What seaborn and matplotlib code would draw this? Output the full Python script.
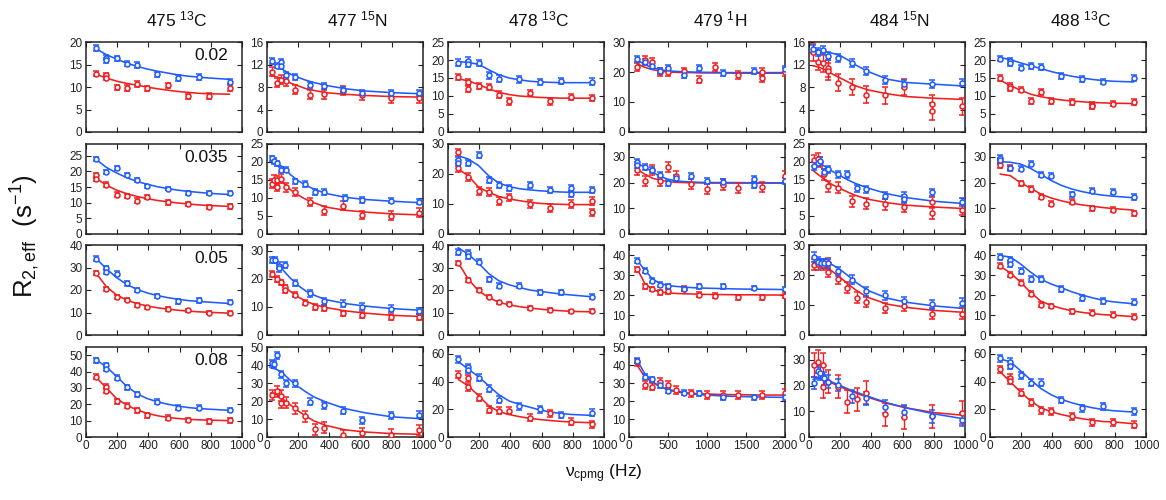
import numpy as np
import matplotlib
matplotlib.use("Agg")
import matplotlib.pyplot as plt
import seaborn as sns
from matplotlib.ticker import MultipleLocator

# ---------------- column / row labels ----------------
col_titles = ["475 $^{13}$C", "477 $^{15}$N", "478 $^{13}$C", "479 $^{1}$H", "484 $^{15}$N", "488 $^{13}$C"]
row_labels = ["0.02", "0.035", "0.05", "0.08"]

# fit-curve abscissae per column (Hz)
fit_x_c1 = [65, 130, 196, 261, 326, 392, 458, 524, 590, 656, 722, 788, 920]
fit_x_c2 = [25, 50, 75, 100, 125, 150, 200, 250, 300, 375, 500, 625, 800, 980]
fit_x_c3 = fit_x_c1
fit_x_c4 = [100, 200, 300, 400, 500, 600, 700, 800, 900, 1000, 1200, 1400, 1600, 1700, 2000]
fit_x_c5 = fit_x_c2
fit_x_c6 = fit_x_c1

# axis ranges
y_max = [[20, 16, 25, 30, 16, 25],
         [28.75, 25, 30, 35, 25, 35],
         [40, 32, 40, 45, 30, 45],
         [55, 50, 65, 50, 35, 65]]
y_step = [[5, 4, 5, 10, 4, 5],
          [5, 5, 10, 10, 5, 10],
          [10, 10, 10, 10, 10, 10],
          [10, 10, 20, 10, 10, 20]]
x_max = [1000, 1000, 1000, 2000, 1000, 1000]
x_step = [200, 200, 200, 500, 200, 200]

# error bar half-widths (blue, red)
err_b = [[0.6, 0.5, 0.9, 1.0, 0.7, 0.8],
         [0.6, 0.8, 1.0, 1.2, 1.0, 1.0],
         [1.0, 1.2, 1.2, 1.2, 1.5, 1.5],
         [1.5, 2.0, 2.5, 1.5, 2.5, 2.5]]
err_r = [[0.6, 0.8, 0.9, 1.3, 1.5, 0.8],
         [0.7, 1.2, 1.3, 2.0, 1.5, 1.0],
         [0.8, 1.0, 0.8, 1.2, 1.8, 1.2],
         [1.5, 3.0, 2.5, 2.0, 4.5, 2.5]]

# ---------------- column 1 : 475 13C ----------------
r1c1_bx = [65, 130, 130, 196, 261, 326, 458, 590, 722, 920]
r1c1_by = [18.7, 16.5, 15.9, 16.4, 15.2, 14.9, 12.8, 12.0, 12.2, 11.2]
r1c1_rx = [65, 130, 130, 196, 261, 326, 392, 524, 656, 788, 920]
r1c1_ry = [13.0, 12.6, 12.1, 9.9, 9.8, 10.7, 9.7, 10.4, 7.9, 8.0, 9.8]
r1c1_fb = [18.5, 17.2, 16.2, 15.3, 14.6, 14.0, 13.5, 13.1, 12.7, 12.4, 12.2, 12.0, 11.7]
r1c1_fr = [12.8, 12.0, 11.3, 10.8, 10.4, 10.0, 9.6, 9.3, 9.0, 8.8, 8.6, 8.5, 8.4]

r2c1_bx = [65, 130, 196, 261, 326, 392, 524, 656, 788, 920]
r2c1_by = [24.0, 19.8, 21.0, 18.9, 17.3, 15.2, 14.5, 13.0, 13.2, 13.1]
r2c1_rx = [65, 65, 130, 196, 261, 326, 392, 524, 656, 788, 920]
r2c1_ry = [18.7, 17.5, 15.8, 12.6, 12.1, 10.7, 11.8, 10.1, 9.6, 8.7, 8.8]
r2c1_fb = [23.8, 21.3, 19.5, 18.0, 16.8, 15.9, 15.1, 14.5, 14.0, 13.6, 13.3, 13.0, 12.6]
r2c1_fr = [17.8, 15.6, 14.0, 12.9, 12.0, 11.3, 10.7, 10.3, 9.9, 9.6, 9.3, 9.1, 8.8]

r3c1_bx = [65, 130, 130, 196, 261, 326, 458, 590, 722, 920]
r3c1_by = [34.0, 29.8, 28.2, 27.3, 23.0, 20.1, 17.3, 14.9, 15.4, 14.6]
r3c1_rx = [65, 130, 196, 261, 326, 392, 524, 656, 788, 920]
r3c1_ry = [27.6, 20.4, 17.0, 15.7, 13.3, 12.3, 11.5, 10.9, 10.0, 9.7]
r3c1_fb = [34.0, 29.5, 25.5, 22.5, 20.3, 18.7, 17.5, 16.6, 15.9, 15.3, 14.9, 14.6, 14.0]
r3c1_fr = [27.5, 21.5, 17.8, 15.5, 14.0, 12.9, 12.1, 11.5, 11.0, 10.6, 10.3, 10.1, 9.7]

r4c1_bx = [65, 130, 130, 196, 261, 326, 458, 590, 722, 920]
r4c1_by = [47.0, 43.8, 41.7, 36.3, 30.4, 26.0, 21.5, 18.0, 18.0, 16.5]
r4c1_rx = [65, 130, 130, 196, 261, 326, 392, 524, 656, 788, 920]
r4c1_ry = [36.7, 30.8, 28.2, 21.8, 19.2, 16.3, 13.4, 11.7, 10.4, 9.6, 10.3]
r4c1_fb = [47.0, 43.0, 37.0, 31.0, 26.5, 23.5, 21.5, 20.0, 18.9, 18.0, 17.4, 17.0, 16.3]
r4c1_fr = [36.5, 30.0, 23.5, 19.5, 16.5, 14.5, 13.0, 12.0, 11.3, 10.8, 10.5, 10.3, 10.0]

# ---------------- column 2 : 477 15N ----------------
r1c2_bx = [30, 64, 92, 92, 122, 181, 277, 367, 488, 610, 793, 975]
r1c2_by = [12.6, 11.8, 12.4, 11.7, 10.1, 9.8, 8.4, 8.2, 7.5, 7.0, 6.9, 6.9]
r1c2_rx = [30, 64, 92, 122, 181, 277, 367, 488, 610, 793, 975]
r1c2_ry = [10.7, 8.8, 9.3, 9.0, 7.5, 6.6, 6.7, 7.3, 6.5, 6.0, 6.0]
r1c2_fb = [12.2, 12.0, 11.6, 11.1, 10.7, 10.3, 9.7, 9.2, 8.8, 8.3, 7.7, 7.3, 7.0, 6.8]
r1c2_fr = [10.0, 9.9, 9.7, 9.4, 9.1, 8.7, 8.2, 7.7, 7.4, 7.0, 6.7, 6.5, 6.3, 6.2]

r2c2_bx = [32, 48, 64, 92, 122, 181, 245, 309, 367, 500, 610, 793, 975]
r2c2_by = [21.0, 20.2, 19.6, 17.9, 17.9, 14.6, 13.8, 11.6, 11.6, 9.9, 9.5, 9.3, 9.0]
r2c2_rx = [30, 48, 64, 64, 92, 122, 181, 277, 367, 488, 610, 793, 975]
r2c2_ry = [14.0, 15.1, 14.9, 13.1, 15.4, 13.0, 11.7, 8.9, 6.5, 7.9, 5.3, 5.1, 5.9]
r2c2_fb = [21.3, 20.3, 19.4, 18.6, 17.7, 16.5, 14.8, 13.5, 12.5, 11.3, 10.2, 9.6, 9.1, 8.7]
r2c2_fr = [14.9, 14.8, 14.7, 14.3, 13.3, 12.3, 10.8, 9.6, 8.7, 7.5, 6.6, 6.1, 5.6, 5.3]

r3c2_bx = [32, 53, 79, 79, 117, 181, 277, 367, 488, 610, 793, 975]
r3c2_by = [26.7, 26.7, 24.6, 23.7, 24.9, 18.5, 14.8, 12.0, 11.1, 10.1, 9.4, 8.5]
r3c2_rx = [30, 64, 92, 117, 117, 181, 245, 309, 367, 488, 610, 793, 975]
r3c2_ry = [21.8, 20.0, 18.7, 16.9, 16.1, 14.4, 11.5, 9.9, 9.5, 7.7, 7.1, 6.4, 6.4]
r3c2_fb = [26.6, 26.2, 24.8, 23.3, 21.7, 20.2, 17.6, 15.6, 14.2, 12.6, 11.2, 10.3, 9.4, 8.8]
r3c2_fr = [22.2, 20.6, 19.0, 17.7, 16.6, 15.5, 13.5, 12.0, 10.9, 9.8, 8.6, 7.8, 7.0, 6.6]

r4c2_bx = [30, 45, 64, 92, 122, 181, 277, 367, 488, 610, 793, 975]
r4c2_by = [41.0, 40.5, 45.5, 34.9, 29.9, 29.9, 19.6, 17.7, 14.6, 9.3, 12.1, 12.3]
r4c2_rx = [30, 64, 92, 92, 122, 181, 245, 309, 367, 488, 610, 793, 975]
r4c2_ry = [23.3, 25.5, 23.0, 19.0, 19.0, 15.9, 11.6, 4.3, 5.2, 0.9, 2.2, 1.3, 3.7]
r4c2_fb = [38.3, 37.9, 37.0, 35.5, 33.5, 31.5, 28.0, 25.0, 22.3, 19.5, 15.8, 13.5, 11.2, 10.2]
r4c2_fr = [24.6, 24.2, 23.0, 21.3, 19.5, 17.8, 14.5, 11.5, 9.0, 6.5, 4.0, 2.8, 1.9, 1.5]

# ---------------- column 3 : 478 13C ----------------
r1c3_bx = [65, 130, 130, 196, 261, 326, 458, 590, 722, 920]
r1c3_by = [19.3, 19.8, 18.9, 19.2, 15.7, 14.8, 14.6, 13.9, 14.2, 14.0]
r1c3_rx = [65, 130, 130, 196, 261, 326, 392, 524, 656, 788, 920]
r1c3_ry = [15.3, 13.9, 12.0, 12.8, 12.5, 10.4, 8.5, 10.9, 8.5, 9.7, 9.5]
r1c3_fb = [19.6, 19.3, 18.8, 17.3, 15.9, 15.0, 14.5, 14.1, 13.9, 13.8, 13.7, 13.7, 13.7]
r1c3_fr = [14.8, 14.2, 13.2, 12.0, 11.0, 10.4, 10.0, 9.8, 9.6, 9.5, 9.4, 9.4, 9.4]

r2c3_bx = [65, 65, 130, 196, 261, 326, 392, 524, 656, 788, 788, 920]
r2c3_by = [24.8, 23.7, 23.7, 26.4, 18.1, 16.4, 15.3, 16.3, 14.7, 15.3, 13.3, 14.8]
r2c3_rx = [65, 65, 130, 196, 261, 326, 392, 524, 656, 788, 920, 920]
r2c3_ry = [27.2, 22.0, 18.9, 14.4, 13.9, 11.1, 12.2, 10.0, 8.7, 10.0, 11.1, 7.2]
r2c3_fb = [26.1, 25.0, 22.8, 19.4, 17.0, 15.8, 15.1, 14.7, 14.4, 14.2, 14.0, 13.9, 13.9]
r2c3_fr = [21.7, 19.4, 15.6, 13.9, 12.5, 11.7, 11.1, 10.6, 10.2, 10.0, 9.9, 9.8, 9.8]

r3c3_bx = [65, 130, 130, 196, 261, 326, 458, 590, 722, 920]
r3c3_by = [36.9, 36.6, 35.0, 32.6, 24.8, 21.9, 21.9, 18.9, 18.9, 17.0]
r3c3_rx = [65, 130, 196, 261, 326, 392, 524, 656, 788, 920]
r3c3_ry = [31.9, 24.5, 19.9, 17.1, 14.5, 14.0, 12.0, 11.1, 10.5, 10.8]
r3c3_fb = [38.8, 35.9, 31.9, 27.3, 24.1, 22.3, 21.1, 20.0, 19.4, 18.8, 18.2, 17.8, 17.0]
r3c3_fr = [32.2, 24.8, 19.6, 16.7, 14.5, 13.4, 12.6, 12.0, 11.5, 11.1, 10.8, 10.5, 10.3]

r4c3_bx = [65, 130, 130, 196, 261, 326, 458, 590, 722, 920]
r4c3_by = [56.0, 50.5, 48.5, 42.9, 34.8, 26.9, 22.1, 20.1, 15.9, 17.6]
r4c3_rx = [65, 130, 130, 196, 261, 326, 392, 524, 656, 788, 920]
r4c3_ry = [44.9, 42.4, 36.0, 28.2, 19.6, 19.1, 19.1, 14.0, 17.2, 11.0, 9.1]
r4c3_fb = [54.5, 49.0, 43.5, 37.0, 30.5, 26.0, 23.5, 21.5, 19.5, 18.0, 17.0, 16.3, 15.6]
r4c3_fr = [41.7, 36.8, 29.9, 22.5, 18.4, 16.2, 14.7, 13.5, 12.6, 11.9, 11.3, 10.8, 10.3]

# ---------------- column 4 : 479 1H ----------------
r1c4_bx = [100, 200, 300, 400, 500, 700, 900, 1200, 1600, 2000]
r1c4_by = [24.4, 23.3, 21.9, 20.2, 21.3, 19.1, 21.3, 19.6, 20.2, 21.0]
r1c4_rx = [100, 200, 300, 400, 500, 700, 900, 1100, 1400, 1700, 1700, 2000]
r1c4_ry = [21.6, 23.9, 23.5, 19.9, 19.9, 20.2, 17.5, 21.8, 19.1, 19.9, 18.0, 19.9]
r1c4_fb = [24.1, 22.5, 21.4, 20.8, 20.4, 20.2, 20.1, 20.0, 19.9, 19.9, 19.8, 19.8, 19.8, 19.8, 19.8]
r1c4_fr = [22.8, 21.6, 20.8, 20.3, 20.0, 19.9, 19.8, 19.8, 19.7, 19.7, 19.7, 19.6, 19.6, 19.6, 19.6]

r2c4_bx = [100, 100, 200, 300, 400, 500, 600, 800, 1000, 1200, 1600, 1600, 2000]
r2c4_by = [28.0, 26.7, 26.1, 24.8, 22.8, 19.9, 21.8, 22.6, 20.5, 20.2, 21.5, 18.9, 20.5]
r2c4_rx = [100, 200, 300, 400, 500, 600, 800, 1000, 1200, 1400, 1700, 2000]
r2c4_ry = [25.0, 20.6, 24.8, 20.5, 26.0, 22.6, 19.4, 17.4, 19.2, 18.0, 18.3, 22.5]
r2c4_fb = [27.4, 26.1, 24.1, 22.4, 21.3, 20.7, 20.4, 20.2, 20.1, 20.0, 20.0, 20.0, 19.9, 19.9, 19.9]
r2c4_fr = [25.2, 23.3, 21.7, 20.9, 20.4, 20.1, 20.0, 19.9, 19.9, 19.8, 19.8, 19.8, 19.8, 19.8, 19.8]

r3c4_bx = [100, 200, 300, 400, 500, 700, 900, 1200, 1600, 2000]
r3c4_by = [37.2, 32.2, 27.1, 25.2, 24.5, 23.0, 24.3, 24.3, 23.5, 23.0]
r3c4_rx = [100, 200, 300, 400, 500, 700, 900, 1100, 1400, 1700, 2000]
r3c4_ry = [32.9, 24.3, 23.0, 21.4, 21.9, 23.2, 20.2, 19.7, 18.9, 18.9, 19.7]
r3c4_fb = [37.5, 32.6, 28.0, 25.8, 24.8, 24.3, 24.0, 23.7, 23.5, 23.4, 23.2, 23.0, 22.9, 22.9, 22.7]
r3c4_fr = [33.4, 26.0, 22.7, 21.5, 21.1, 20.8, 20.6, 20.5, 20.4, 20.3, 20.2, 20.1, 20.1, 20.0, 20.0]

r4c4_bx = [100, 200, 300, 400, 500, 700, 900, 1200, 1600, 2000]
r4c4_by = [42.5, 33.6, 32.1, 28.9, 25.7, 24.6, 24.3, 22.0, 22.0, 22.0]
r4c4_rx = [100, 200, 300, 400, 500, 600, 800, 1000, 1200, 1400, 1700, 2000]
r4c4_ry = [41.4, 28.9, 28.0, 30.8, 28.9, 26.1, 24.3, 23.3, 23.3, 23.3, 23.3, 24.6]
r4c4_fb = [42.9, 35.4, 30.8, 28.0, 26.1, 25.1, 24.5, 24.0, 23.6, 23.3, 22.8, 22.5, 22.3, 22.2, 22.0]
r4c4_fr = [40.1, 33.6, 30.2, 28.0, 26.5, 25.5, 24.8, 24.3, 24.0, 23.9, 23.6, 23.5, 23.4, 23.3, 23.3]

# ---------------- column 5 : 484 15N ----------------
r1c5_bx = [26, 57, 89, 123, 185, 277, 366, 489, 611, 791, 979]
r1c5_by = [14.8, 14.3, 14.6, 13.5, 13.1, 12.3, 10.9, 9.2, 8.6, 8.5, 8.8]
r1c5_rx = [26, 57, 89, 123, 123, 185, 277, 366, 489, 611, 791, 791, 979]
r1c5_ry = [14.2, 12.5, 12.2, 11.3, 10.8, 8.8, 8.0, 6.6, 6.5, 8.0, 5.0, 3.7, 4.6]
r1c5_fb = [14.8, 14.6, 14.5, 14.3, 14.1, 14.0, 13.6, 12.8, 11.9, 10.8, 9.4, 8.8, 8.5, 8.2]
r1c5_fr = [11.8, 11.6, 11.4, 11.1, 10.7, 10.3, 9.6, 8.9, 8.2, 7.5, 6.8, 6.3, 6.0, 5.8]

r2c5_bx = [30, 57, 68, 94, 123, 185, 245, 306, 366, 489, 611, 611, 791, 979]
r2c5_by = [18.9, 19.8, 20.3, 17.1, 18.0, 16.6, 16.6, 12.7, 12.4, 10.6, 10.6, 9.7, 11.6, 8.9]
r2c5_rx = [30, 57, 68, 94, 123, 185, 277, 366, 489, 611, 791, 791, 979]
r2c5_ry = [20.5, 20.9, 20.0, 16.6, 13.2, 12.9, 9.1, 8.4, 8.2, 7.5, 8.9, 5.8, 6.8]
r2c5_fb = [20.0, 19.9, 19.5, 18.8, 18.1, 17.4, 16.2, 15.0, 14.0, 12.8, 11.2, 10.1, 9.1, 8.5]
r2c5_fr = [17.7, 16.8, 16.0, 15.1, 14.4, 13.7, 12.6, 11.6, 10.7, 9.7, 8.7, 8.0, 7.5, 7.1]

r3c5_bx = [30, 57, 79, 94, 123, 185, 277, 366, 489, 611, 791, 979]
r3c5_by = [26.0, 24.5, 23.9, 23.9, 23.9, 21.3, 18.5, 14.6, 13.3, 11.3, 10.2, 10.7]
r3c5_rx = [30, 57, 89, 123, 123, 185, 245, 306, 366, 489, 611, 791, 979]
r3c5_ry = [23.4, 23.6, 23.4, 23.9, 21.1, 18.7, 15.8, 12.4, 11.0, 9.0, 9.7, 7.1, 7.1]
r3c5_fb = [24.5, 24.4, 24.3, 24.1, 23.9, 23.4, 21.8, 19.8, 17.6, 14.9, 12.3, 10.9, 9.7, 8.9]
r3c5_fr = [24.3, 23.9, 23.4, 22.8, 22.2, 21.2, 19.2, 17.0, 15.0, 12.6, 10.3, 9.2, 8.2, 7.6]

r4c5_bx = [30, 57, 68, 94, 123, 185, 277, 366, 489, 611, 791, 979]
r4c5_by = [21.0, 25.5, 24.8, 22.8, 21.5, 20.2, 15.9, 15.0, 11.7, 9.8, 8.1, 6.8]
r4c5_rx = [30, 57, 89, 89, 123, 185, 245, 306, 366, 489, 611, 791, 979]
r4c5_ry = [28.0, 29.3, 28.0, 19.6, 21.5, 19.6, 13.7, 14.6, 17.3, 8.9, 7.6, 8.1, 9.4]
r4c5_fb = [22.4, 22.6, 22.8, 22.6, 22.0, 21.3, 20.0, 18.7, 17.5, 15.9, 13.3, 11.3, 9.0, 7.2]
r4c5_fr = [23.5, 23.2, 22.8, 22.3, 21.6, 20.9, 19.6, 18.3, 17.1, 15.5, 13.1, 11.3, 9.5, 8.5]

# ---------------- column 6 : 488 13C ----------------
r1c6_bx = [65, 130, 130, 196, 261, 326, 458, 590, 722, 920]
r1c6_by = [20.4, 19.7, 19.1, 17.9, 18.3, 18.0, 15.6, 14.7, 14.0, 15.0]
r1c6_rx = [65, 130, 130, 196, 261, 326, 392, 524, 656, 656, 788, 920]
r1c6_ry = [15.1, 12.8, 12.2, 11.8, 8.7, 11.1, 8.7, 8.3, 7.6, 7.1, 7.9, 8.3]
r1c6_fb = [20.7, 20.1, 19.2, 18.4, 17.6, 16.8, 16.1, 15.5, 15.0, 14.6, 14.3, 14.1, 13.9]
r1c6_fr = [14.4, 12.9, 11.6, 10.5, 9.8, 9.3, 8.9, 8.6, 8.4, 8.2, 8.1, 8.0, 7.9]

r2c6_bx = [65, 65, 130, 196, 261, 326, 392, 524, 656, 788, 920]
r2c6_by = [29.6, 28.7, 25.6, 25.4, 27.3, 23.0, 22.6, 15.4, 16.9, 16.4, 14.4]
r2c6_rx = [65, 65, 130, 196, 261, 326, 392, 524, 656, 788, 920]
r2c6_ry = [28.2, 26.8, 25.8, 19.7, 17.5, 14.5, 11.7, 12.6, 10.0, 9.4, 8.1]
r2c6_fb = [28.1, 27.9, 27.2, 25.5, 23.2, 20.8, 18.9, 17.5, 16.5, 15.7, 15.1, 14.7, 14.1]
r2c6_fr = [23.3, 22.7, 19.9, 17.8, 15.5, 14.0, 12.9, 12.0, 11.3, 10.8, 10.3, 9.9, 9.3]

r3c6_bx = [65, 130, 130, 196, 261, 326, 458, 590, 722, 920]
r3c6_by = [38.8, 37.5, 35.7, 31.9, 28.1, 28.1, 22.8, 18.7, 17.0, 16.5]
r3c6_rx = [65, 130, 196, 261, 326, 392, 524, 656, 788, 920]
r3c6_ry = [34.7, 30.1, 26.1, 20.7, 15.2, 14.5, 11.9, 11.1, 10.2, 9.1]
r3c6_fb = [39.7, 39.0, 35.5, 31.4, 27.8, 25.5, 23.6, 21.6, 20.0, 18.6, 17.4, 16.6, 15.6]
r3c6_fr = [34.4, 31.1, 26.4, 21.2, 16.9, 14.8, 13.3, 12.1, 11.3, 10.7, 10.2, 9.9, 9.2]

r4c6_bx = [65, 130, 130, 196, 261, 326, 458, 590, 722, 920]
r4c6_by = [56.8, 54.4, 51.5, 44.7, 39.3, 39.3, 26.7, 20.9, 22.3, 18.7]
r4c6_rx = [65, 130, 130, 196, 261, 326, 392, 524, 656, 788, 920]
r4c6_ry = [49.0, 42.9, 40.5, 32.0, 25.2, 19.4, 18.7, 15.0, 10.7, 10.7, 8.7]
r4c6_fb = [56.3, 54.4, 47.8, 41.3, 35.0, 30.5, 27.2, 24.7, 22.8, 21.1, 19.9, 19.0, 18.0]
r4c6_fr = [47.1, 39.8, 32.5, 26.0, 21.1, 18.2, 16.2, 14.6, 13.2, 12.1, 11.2, 10.9, 9.6]

# ---------------- styling ----------------
sns.set_theme(style="ticks")
plt.rcParams.update({
    "font.family": ["Liberation Sans", "DejaVu Sans"],
    "mathtext.fontset": "custom",
    "mathtext.rm": "Liberation Sans",
    "mathtext.it": "Liberation Sans:italic",
    "mathtext.bf": "Liberation Sans:bold",
    "mathtext.default": "regular",
    "axes.edgecolor": "#222222",
    "axes.linewidth": 1.1,
})

BLUE = "#1f5bff"
RED = "#f21d1d"

W, H = 1166, 500
fig = plt.figure(figsize=(W / 100, H / 100), dpi=100)
col_left = [86, 267, 448, 629, 809, 990]
row_top = [42, 144, 245, 347]
ax_w, ax_h = 156, 90

g = globals()
fit_xs = [fit_x_c1, fit_x_c2, fit_x_c3, fit_x_c4, fit_x_c5, fit_x_c6]

for i in range(4):
    for j in range(6):
        key = f"r{i+1}c{j+1}_"
        ax = fig.add_axes([col_left[j] / W, 1 - (row_top[i] + ax_h) / H, ax_w / W, ax_h / H])
        fx = fit_xs[j]
        for col, xs, ys, e, fit in [
            (RED, g[key + "rx"], g[key + "ry"], err_r[i][j], g[key + "fr"]),
            (BLUE, g[key + "bx"], g[key + "by"], err_b[i][j], g[key + "fb"]),
        ]:
            sns.lineplot(x=fx, y=fit, ax=ax, color=col, lw=1.15,
                         estimator=None, sort=False, legend=False)
            ax.errorbar(xs, ys, yerr=e, fmt="o", ms=3.6, mfc="#f4f4ff", mec=col,
                        mew=1.1, ecolor=col, elinewidth=1.0, capsize=2.3,
                        capthick=1.0, zorder=3)
        ax.set_xlim(0, x_max[j])
        ax.set_ylim(0, y_max[i][j])
        ax.xaxis.set_major_locator(MultipleLocator(x_step[j]))
        ax.yaxis.set_major_locator(MultipleLocator(y_step[i][j]))
        ax.tick_params(direction="in", top=True, right=True, length=3.5,
                       width=0.8, labelsize=8.5, pad=2.5, colors="#222222")
        ax.set_xlabel("")
        ax.set_ylabel("")
        if i < 3:
            ax.tick_params(labelbottom=False)
        if j == 0:
            ax.text(0.91, 0.845, row_labels[i], transform=ax.transAxes,
                    ha="right", va="center", fontsize=12.5, color="#111111")

for j in range(6):
    cx = (col_left[j] + ax_w / 2 + 13) / W
    fig.text(cx, 1 - 19 / H, col_titles[j], ha="center", va="center",
             fontsize=12.5, color="#111111")

fig.text(25 / W, 1 - 236 / H, r"R$_{2,eff}$  (s$^{-1}$)", rotation=90,
         ha="center", va="center", fontsize=18.5, color="#111111")
fig.text(604 / W, 1 - 474 / H, "ν$_{cpmg}$ (Hz)", ha="center", va="center",
         fontsize=12.5, color="#111111")

fig.savefig("out.png", dpi=100)
